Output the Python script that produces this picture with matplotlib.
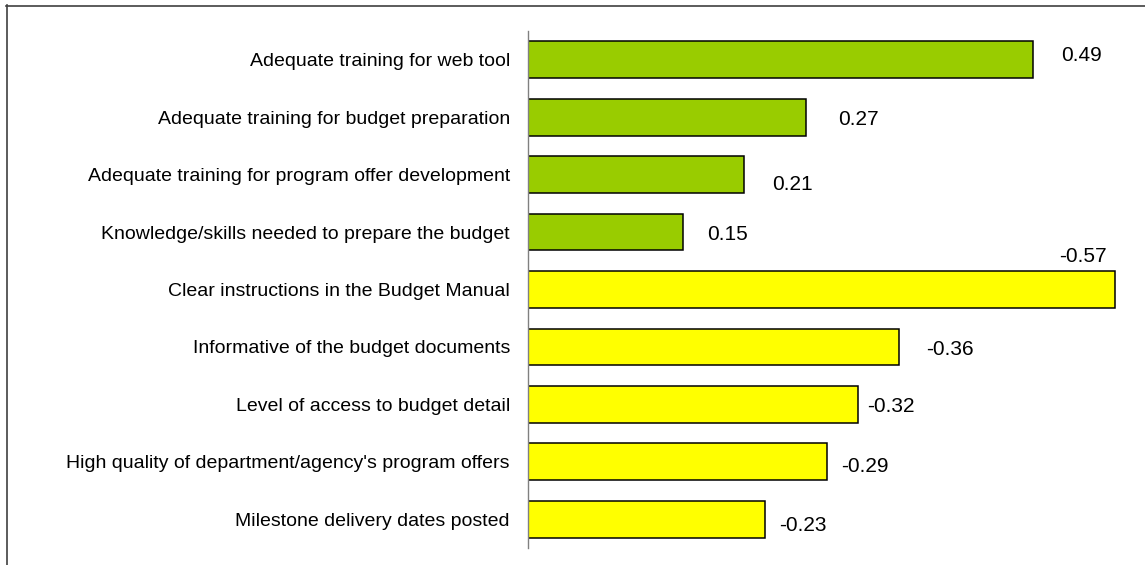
import matplotlib.pyplot as plt
from matplotlib.lines import Line2D

plt.rcParams['font.family'] = ['Liberation Sans', 'DejaVu Sans']

categories = [
    "Adequate training for web tool",
    "Adequate training for budget preparation",
    "Adequate training for program offer development",
    "Knowledge/skills needed to prepare the budget",
    "Clear instructions in the Budget Manual",
    "Informative of the budget documents",
    "Level of access to budget detail",
    "High quality of department/agency's program offers",
    "Milestone delivery dates posted",
]
values = [0.49, 0.27, 0.21, 0.15, -0.57, -0.36, -0.32, -0.29, -0.23]

GREEN = "#99CC00"
YELLOW = "#FFFF00"

# label offsets (pixels) from the bar end, as the source chart places them
label_offsets = [(28, 4), (32, -2), (28, -10), (25, -2), (-56, 33),
                 (27, -3), (10, -2), (14, -5), (14, -6)]

fig = plt.figure(figsize=(11.45, 5.65), dpi=100)
ax = fig.add_axes([528 / 1145, 1 - 548 / 565, 1 - 528 / 1145, 517 / 565])

pos = list(range(len(values)))
lengths = [abs(v) for v in values]
colors = [GREEN if v > 0 else YELLOW for v in values]
ax.barh(pos, lengths, height=0.64, color=colors, edgecolor="black", linewidth=1.1)

for p, v, (dx, dy) in zip(pos, values, label_offsets):
    ax.annotate(f"{v:.2f}", xy=(abs(v), p), xytext=(dx, dy), textcoords="offset pixels",
                ha="left", va="center", fontsize=15, annotation_clip=False)

ax.set_xlim(0, (1145 - 528) / 1030)
ax.set_ylim(len(values) - 0.5, -0.5)
ax.set_yticks(pos)
ax.set_yticklabels(categories, fontsize=14)
ax.tick_params(axis="y", length=0, pad=13)
ax.set_xticks([])
for side in ["top", "right", "bottom"]:
    ax.spines[side].set_visible(False)
ax.spines["left"].set_color("#808080")
ax.spines["left"].set_linewidth(1.0)

# outer chart frame (only top/left visible in the source crop)
fig.add_artist(Line2D([6 / 1145, 1.0], [1 - 5.5 / 565, 1 - 5.5 / 565],
                      transform=fig.transFigure, color="#404040", lw=1.2))
fig.add_artist(Line2D([6.5 / 1145, 6.5 / 1145], [0.0, 1 - 5 / 565],
                      transform=fig.transFigure, color="#404040", lw=1.2))

plt.savefig("out.png", dpi=100)
